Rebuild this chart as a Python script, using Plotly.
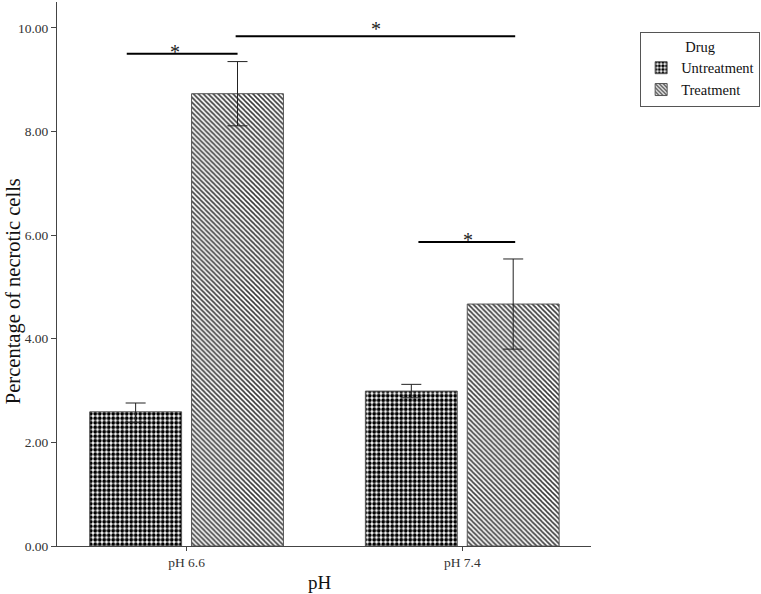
import plotly.graph_objects as go

# ---- data ----
categories = ["pH 6.6", "pH 7.4"]
untreat_vals = [2.59, 2.99]
untreat_err_plus = [0.17, 0.13]
untreat_err_minus = [0.20, 0.13]
treat_vals = [8.73, 4.67]
treat_err_plus = [0.62, 0.87]
treat_err_minus = [0.62, 0.87]

y_ticks = [0, 2, 4, 6, 8, 10]
y_tick_labels = ["0.00", "2.00", "4.00", "6.00", "8.00", "10.00"]

# significance brackets: (x0, x1, y) in axis units, star (x, y)
sig_x0 = [-0.217, 0.178, 0.841]
sig_x1 = [0.185, 1.192, 1.192]
sig_y = [9.50, 9.84, 5.87]
star_x = [-0.043, 0.688, 1.022]
star_y = [9.62, 10.05, 5.98]

FONT = "Liberation Serif"

fig = go.Figure()
fig.add_trace(go.Bar(
    name="Untreatment", x=categories, y=untreat_vals,
    marker=dict(color="white", line=dict(color="#555", width=1),
                pattern=dict(shape=".", size=4.5, solidity=0.6,
                             fgcolor="black", bgcolor="white", fillmode="replace")),
    error_y=dict(type="data", symmetric=False, array=untreat_err_plus,
                 arrayminus=untreat_err_minus, color="#222", thickness=1, width=10),
))
fig.add_trace(go.Bar(
    name="Treatment", x=categories, y=treat_vals,
    marker=dict(color="white", line=dict(color="#555", width=1),
                pattern=dict(shape="\\", size=3.5, solidity=0.45,
                             fgcolor="#3a3a3a", bgcolor="white", fillmode="replace")),
    error_y=dict(type="data", symmetric=False, array=treat_err_plus,
                 arrayminus=treat_err_minus, color="#222", thickness=1, width=10),
))

shapes = []
for x0, x1, y in zip(sig_x0, sig_x1, sig_y):
    shapes.append(dict(type="line", xref="x", yref="y", x0=x0, x1=x1, y0=y, y1=y,
                       line=dict(color="black", width=2)))

annotations = []
for sx, sy in zip(star_x, star_y):
    annotations.append(dict(x=sx, y=sy, xref="x", yref="y", text="*", showarrow=False,
                            font=dict(family=FONT, size=20, color="#222"),
                            yanchor="middle", xanchor="center", yshift=-4))
annotations.append(dict(x=-0.080, y=0.469, xref="paper", yref="paper",
                        text="Percentage of necrotic cells", textangle=-90, showarrow=False,
                        font=dict(family=FONT, size=20.5, color="#111"),
                        xanchor="center", yanchor="middle"))
annotations.append(dict(x=0.493, y=-0.068, xref="paper", yref="paper",
                        text="pH", showarrow=False,
                        font=dict(family=FONT, size=19, color="#111"),
                        xanchor="center", yanchor="middle"))

fig.update_layout(
    width=761, height=594,
    margin=dict(l=57, r=169, t=2, b=48),
    paper_bgcolor="white", plot_bgcolor="white",
    barmode="group", bargap=0.261, bargroupgap=0.098,
    font=dict(family=FONT, size=13.5, color="#333"),
    shapes=shapes, annotations=annotations,
    legend=dict(
        title=dict(text="Drug", side="top center", font=dict(family=FONT, size=14.5, color="#111")),
        font=dict(family=FONT, size=14.5, color="#111"),
        x=1.09, y=0.945, xanchor="left", yanchor="top",
        bordercolor="#555", borderwidth=1, bgcolor="white",
        itemwidth=30, tracegroupgap=0,
    ),
    xaxis=dict(range=[-0.47, 1.467], showline=True, linecolor="#444", linewidth=1,
               ticks="outside", ticklen=4, tickcolor="#444", showgrid=False,
               tickfont=dict(family=FONT, size=13.5, color="#333"), automargin=False),
    yaxis=dict(range=[0, 10.5], showline=True, linecolor="#444", linewidth=1,
               ticks="outside", ticklen=5, tickcolor="#444", showgrid=False, zeroline=False,
               tickvals=y_ticks, ticktext=y_tick_labels,
               tickfont=dict(family=FONT, size=13.5, color="#333"), automargin=False),
)

fig.write_html("out.html", config={"displayModeBar": False},
               post_script="document.body.style.margin='0';")
